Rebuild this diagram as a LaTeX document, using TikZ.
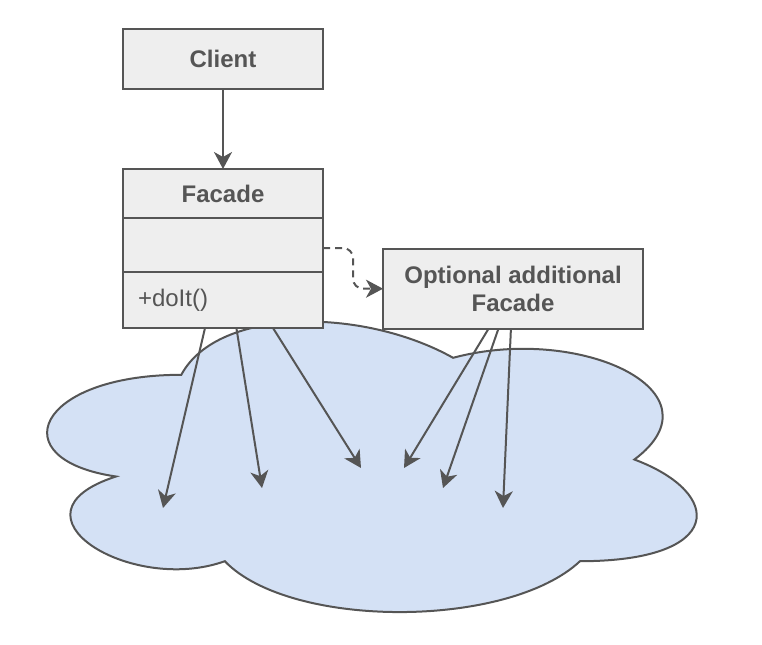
\documentclass[tikz,border=0pt]{standalone}
\usepackage{fontspec}
\setmainfont{Liberation Sans}
\usetikzlibrary{arrows.meta,positioning,calc}
\definecolor{BoxGray}{HTML}{EEEEEE}
\definecolor{LineGray}{HTML}{555555}
\definecolor{CloudBlue}{HTML}{D4E1F5}

\begin{document}
\begin{tikzpicture}[x=0.5pt,y=-0.5pt,
    cls/.style={draw=LineGray,fill=BoxGray,line width=1pt,text=LineGray,
                font=\fontsize{12}{14}\selectfont\bfseries,inner sep=0pt,outer sep=0pt,
                minimum width=100pt,align=center},
    member/.style={cls,font=\fontsize{12}{14}\selectfont,align=left,
                   text width=85pt,inner xsep=7.5pt},
    cloudshape/.style={draw=LineGray,fill=CloudBlue,line width=1pt},
    arr/.style={-{Stealth[length=8.5pt,width=9pt,inset=2.5pt]},LineGray,line width=1pt},
    dep/.style={arr,dashed,dash pattern=on 3.5pt off 2.5pt,rounded corners=5pt}]
    \useasboundingbox (0,0) rectangle (762,644);

    \draw[cloudshape] (181.3,374.8)
        .. controls (36.3,374.8) and (0,459.5) .. (116,476.5)
        .. controls (0,513.7) and (130.5,595.1) .. (224.8,561.2)
        .. controls (290,629) and (507.5,629) .. (580,561.2)
        .. controls (725,561.2) and (725,493.4) .. (634.4,459.5)
        .. controls (725,391.7) and (580,323.9) .. (453.1,357.8)
        .. controls (362.5,307) and (217.5,307) .. (181.3,374.8) -- cycle;
    \coordinate (t1) at (163,508);
    \coordinate (t2) at (262,488);
    \coordinate (t3) at (361,468);
    \coordinate (t4) at (404,468);
    \coordinate (t5) at (443,488);
    \coordinate (t6) at (503,508);

    \node[cls,minimum height=30pt] (client) at (223,59) {Client};
    \node[cls,minimum height=24.5pt] (facade) at (223,193.5) {Facade};
    \node[cls,minimum height=27pt,below=0pt of facade] (attrs) {};
    \node[member,minimum height=28pt,below=0pt of attrs] (ops) {+doIt()};
    \node[cls,minimum width=130pt,minimum height=40pt] (extra) at (513,288.7)
        {Optional additional\\Facade};

    \draw[arr] (client) -- (facade);
    \draw[dep] ([yshift=-1.5pt]attrs.east) -- ++(15pt,0) |- (extra.west);

    \draw[arr] ($(ops.south west)!0.41!(ops.south east)$) -- (t1);
    \draw[arr] ($(ops.south west)!0.567!(ops.south east)$) -- (t2);
    \draw[arr] ($(ops.south west)!0.75!(ops.south east)$) -- (t3);
    \draw[arr] ($(extra.south west)!0.406!(extra.south east)$) -- (t4);
    \draw[arr] ($(extra.south west)!0.444!(extra.south east)$) -- (t5);
    \draw[arr] ($(extra.south west)!0.492!(extra.south east)$) -- (t6);
\end{tikzpicture}
\end{document}
